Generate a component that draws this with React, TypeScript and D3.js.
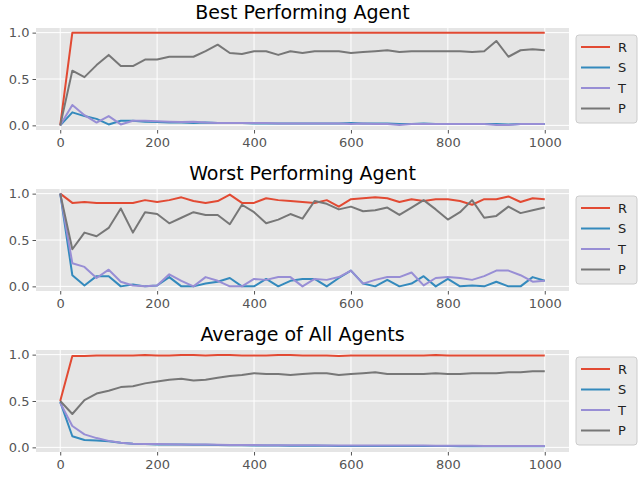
import { useEffect, useRef } from "react"
import * as d3 from "d3"

const steps = [
  0, 25, 50, 75, 100, 125, 150, 175, 200, 225, 250, 275, 300, 325, 350, 375, 400, 425, 450, 475, 500,
  525, 550, 575, 600, 625, 650, 675, 700, 725, 750, 775, 800, 825, 850, 875, 900, 925, 950, 975, 1000,
]

const seriesNames = ["R", "S", "T", "P"]
const titles = ["Best Performing Agent", "Worst Performing Agent", "Average of All Agents"]
const xTicks = [0, 200, 400, 600, 800, 1000]
const yTicks = [0, 0.5, 1.0]

// best performing agent
const bestR = [0, 1, 1, 1, 1, 1, 1, 1, 1, 1, 1, 1, 1, 1, 1, 1, 1, 1, 1, 1, 1, 1, 1, 1, 1, 1, 1, 1, 1, 1, 1, 1, 1, 1, 1, 1, 1, 1, 1, 1, 1]
const bestS = [
  0, 0.14, 0.1, 0.07, 0.01, 0.05, 0.05, 0.04, 0.035, 0.03, 0.03, 0.025, 0.03, 0.025, 0.025, 0.025, 0.02, 0.02,
  0.02, 0.02, 0.02, 0.02, 0.02, 0.02, 0.025, 0.02, 0.02, 0.02, 0.015, 0.015, 0.02, 0.015, 0.015, 0.015, 0.015,
  0.015, 0.015, 0.01, 0.015, 0.015, 0.015,
]
const bestT = [
  0, 0.22, 0.11, 0.03, 0.1, 0.01, 0.05, 0.05, 0.045, 0.04, 0.035, 0.04, 0.03, 0.025, 0.025, 0.025, 0.025, 0.025,
  0.02, 0.02, 0.02, 0.02, 0.02, 0.02, 0.015, 0.02, 0.015, 0.015, 0.005, 0.015, 0.015, 0.015, 0.015, 0.015, 0.015,
  0.015, 0.005, 0.005, 0.015, 0.015, 0.015,
]
const bestP = [
  0, 0.59, 0.52, 0.65, 0.76, 0.64, 0.64, 0.71, 0.71, 0.74, 0.74, 0.74, 0.8, 0.87, 0.78, 0.77, 0.8, 0.8, 0.76,
  0.8, 0.78, 0.8, 0.8, 0.8, 0.78, 0.79, 0.8, 0.81, 0.79, 0.8, 0.8, 0.8, 0.8, 0.8, 0.79, 0.8, 0.91, 0.74, 0.81,
  0.82, 0.81,
]

// worst performing agent
const worstR = [
  1, 0.9, 0.91, 0.9, 0.9, 0.9, 0.9, 0.93, 0.91, 0.93, 0.96, 0.92, 0.9, 0.92, 0.99, 0.9, 0.9, 0.95, 0.93, 0.92,
  0.91, 0.9, 0.93, 0.86, 0.94, 0.95, 0.96, 0.95, 0.91, 0.94, 0.92, 0.94, 0.94, 0.92, 0.88, 0.94, 0.94, 0.97,
  0.91, 0.95, 0.94,
]
const worstS = [
  1, 0.12, 0.01, 0.11, 0.11, 0, 0.02, 0, 0.01, 0.1, 0, 0, 0.03, 0.05, 0.09, 0, 0, 0.08, 0, 0.06, 0.08, 0.08, 0,
  0.09, 0.17, 0.03, 0, 0.07, 0, 0.03, 0.11, 0, 0.08, 0, 0.01, 0, 0.05, 0, 0, 0.1, 0.06,
]
const worstT = [
  1, 0.25, 0.21, 0.09, 0.18, 0.05, 0.01, 0, 0.01, 0.13, 0.06, 0, 0.1, 0.06, 0, 0, 0.08, 0.07, 0.1, 0.1, 0, 0.08,
  0.07, 0.1, 0.17, 0.03, 0.07, 0.1, 0.1, 0.15, 0.01, 0.09, 0.1, 0.09, 0.07, 0.11, 0.17, 0.17, 0.12, 0.05, 0.06,
]
const worstP = [
  1, 0.4, 0.58, 0.54, 0.63, 0.84, 0.58, 0.8, 0.78, 0.68, 0.74, 0.8, 0.77, 0.77, 0.67, 0.88, 0.8, 0.68, 0.72,
  0.78, 0.73, 0.92, 0.89, 0.83, 0.86, 0.81, 0.82, 0.85, 0.77, 0.85, 0.93, 0.83, 0.72, 0.8, 0.93, 0.74, 0.76,
  0.86, 0.79, 0.82, 0.85,
]

// average of all agents
const avgR = [
  0.5, 0.985, 0.985, 0.99, 0.99, 0.99, 0.99, 0.995, 0.99, 0.99, 0.995, 0.995, 0.99, 0.995, 0.995, 0.99, 0.99,
  0.99, 0.995, 0.995, 0.99, 0.99, 0.99, 0.985, 0.99, 0.99, 0.99, 0.99, 0.99, 0.99, 0.99, 0.995, 0.99, 0.99,
  0.99, 0.99, 0.99, 0.99, 0.99, 0.99, 0.99,
]
const avgS = [
  0.49, 0.12, 0.08, 0.075, 0.065, 0.05, 0.04, 0.035, 0.03, 0.03, 0.03, 0.028, 0.028, 0.025, 0.022, 0.022, 0.02,
  0.02, 0.02, 0.018, 0.018, 0.018, 0.018, 0.016, 0.016, 0.015, 0.015, 0.015, 0.015, 0.015, 0.014, 0.014, 0.014,
  0.013, 0.013, 0.012, 0.012, 0.012, 0.012, 0.012, 0.012,
]
const avgT = [
  0.48, 0.23, 0.14, 0.1, 0.07, 0.05, 0.04, 0.037, 0.035, 0.033, 0.032, 0.03, 0.03, 0.028, 0.026, 0.025, 0.025,
  0.024, 0.023, 0.023, 0.022, 0.022, 0.021, 0.021, 0.02, 0.02, 0.02, 0.02, 0.02, 0.019, 0.019, 0.018, 0.018,
  0.017, 0.017, 0.016, 0.016, 0.016, 0.016, 0.015, 0.015,
]
const avgP = [
  0.5, 0.36, 0.51, 0.58, 0.61, 0.65, 0.66, 0.69, 0.71, 0.73, 0.74, 0.72, 0.73, 0.75, 0.77, 0.78, 0.8, 0.79, 0.79,
  0.78, 0.79, 0.8, 0.8, 0.78, 0.79, 0.8, 0.81, 0.79, 0.79, 0.79, 0.79, 0.8, 0.79, 0.79, 0.8, 0.8, 0.8, 0.81, 0.81,
  0.82, 0.82,
]

const panels = [
  [bestR, bestS, bestT, bestP],
  [worstR, worstS, worstT, worstP],
  [avgR, avgS, avgT, avgP],
]

const colors = ["#E24A33", "#348ABD", "#988ED5", "#777777"]

export default function App() {
  const svgRef = useRef<SVGSVGElement>(null)

  useEffect(() => {
    if (!svgRef.current) return
    const svg = d3.select(svgRef.current)
    svg.selectAll("*").remove()

    const left = 36
    const right = 569
    const panelH = 102
    const tops = [28, 189, 350]
    const font = "DejaVu Sans, sans-serif"

    const x = d3.scaleLinear().domain([-50, 1050]).range([left, right])

    panels.forEach((series, i) => {
      const top = tops[i]
      const y = d3.scaleLinear().domain([-0.05, 1.05]).range([top + panelH, top])
      const g = svg.append("g")

      g.append("rect")
        .attr("x", left)
        .attr("y", top)
        .attr("width", right - left)
        .attr("height", panelH)
        .attr("fill", "#E5E5E5")

      // grid
      g.selectAll(".vgrid")
        .data(xTicks)
        .enter()
        .append("line")
        .attr("x1", (d) => x(d))
        .attr("x2", (d) => x(d))
        .attr("y1", top)
        .attr("y2", top + panelH)
        .attr("stroke", "white")
        .attr("stroke-width", 1)
      g.selectAll(".hgrid")
        .data(yTicks)
        .enter()
        .append("line")
        .attr("x1", left)
        .attr("x2", right)
        .attr("y1", (d) => y(d))
        .attr("y2", (d) => y(d))
        .attr("stroke", "white")
        .attr("stroke-width", 1)

      // axes
      const xAxis = g
        .append("g")
        .attr("transform", `translate(0, ${top + panelH})`)
        .call(d3.axisBottom(x).tickValues(xTicks).tickSize(3.5).tickPadding(4).tickFormat(d3.format("d")))
      const yAxis = g
        .append("g")
        .attr("transform", `translate(${left}, 0)`)
        .call(d3.axisLeft(y).tickValues(yTicks).tickSize(3.5).tickPadding(3).tickFormat(d3.format(".1f")))
      ;[xAxis, yAxis].forEach((a) => {
        a.select(".domain").remove()
        a.selectAll("line").attr("stroke", "#555555")
        a.selectAll("text").attr("fill", "#555555").attr("font-size", 13).attr("font-family", font)
      })

      // lines
      const line = d3
        .line<number>()
        .x((_, j) => x(steps[j]))
        .y((d) => y(d))
      series.forEach((vals, k) => {
        g.append("path")
          .datum(vals)
          .attr("fill", "none")
          .attr("stroke", colors[k])
          .attr("stroke-width", 2)
          .attr("stroke-linejoin", "round")
          .attr("d", line)
      })

      // title
      g.append("text")
        .attr("x", (left + right) / 2)
        .attr("y", top - 9)
        .attr("text-anchor", "middle")
        .attr("font-size", 19)
        .attr("font-family", font)
        .attr("fill", "black")
        .text(titles[i])

      // legend
      const lx = 576
      const lh = 88
      const ly = top + panelH / 2 - lh / 2
      const leg = g.append("g")
      leg
        .append("rect")
        .attr("x", lx)
        .attr("y", ly)
        .attr("width", 61)
        .attr("height", lh)
        .attr("rx", 3)
        .attr("fill", "#E5E5E5")
        .attr("fill-opacity", 0.8)
        .attr("stroke", "#cccccc")
      seriesNames.forEach((name, k) => {
        const cy = ly + 12 + k * 20.5
        leg
          .append("line")
          .attr("x1", lx + 5)
          .attr("x2", lx + 34)
          .attr("y1", cy)
          .attr("y2", cy)
          .attr("stroke", colors[k])
          .attr("stroke-width", 2)
        leg
          .append("text")
          .attr("x", lx + 42)
          .attr("y", cy + 4.5)
          .attr("font-size", 13)
          .attr("font-family", font)
          .attr("fill", "#222222")
          .text(name)
      })
    })
  }, [])

  return <svg ref={svgRef} width={640} height={480} style={{ position: "absolute", left: 0, top: 0, background: "white" }} />
}
